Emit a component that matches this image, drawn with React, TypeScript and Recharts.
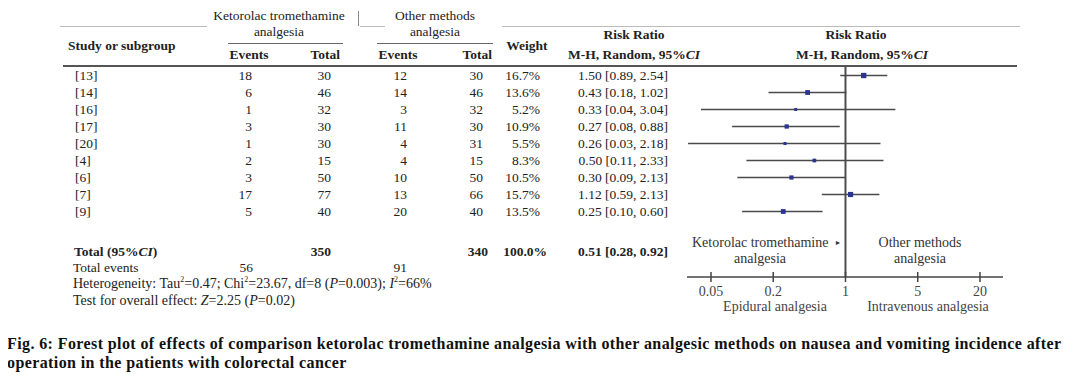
import React from "react"
import { ComposedChart, Scatter, ErrorBar, XAxis, YAxis, ReferenceLine } from "recharts"

// Study rows
const studies = ["[13]", "[14]", "[16]", "[17]", "[20]", "[4]", "[6]", "[7]", "[9]"]
const ketEvents = [18, 6, 1, 3, 1, 2, 3, 17, 5]
const ketTotal = [30, 46, 32, 30, 30, 15, 50, 77, 40]
const othEvents = [12, 14, 3, 11, 4, 4, 10, 13, 20]
const othTotal = [30, 46, 32, 30, 31, 15, 50, 66, 40]
const weights = [16.7, 13.6, 5.2, 10.9, 5.5, 8.3, 10.5, 15.7, 13.5]
const ratios = [1.5, 0.43, 0.33, 0.27, 0.26, 0.5, 0.3, 1.12, 0.25]
const lower = [0.89, 0.18, 0.04, 0.08, 0.03, 0.11, 0.09, 0.59, 0.1]
// [6] is printed as 2.13 but the line in the figure stops at 1
const upper = [2.54, 1.02, 3.04, 0.88, 2.18, 2.33, 1.0, 2.13, 0.6]
const ciLabels = [
  "1.50 [0.89, 2.54]",
  "0.43 [0.18, 1.02]",
  "0.33 [0.04, 3.04]",
  "0.27 [0.08, 0.88]",
  "0.26 [0.03, 2.18]",
  "0.50 [0.11, 2.33]",
  "0.30 [0.09, 2.13]",
  "1.12 [0.59, 2.13]",
  "0.25 [0.10, 0.60]",
]

// Totals
const totalKet = 350
const totalOth = 340
const totalWeight = "100.0%"
const totalCi = "0.51 [0.28, 0.92]"
const eventsKet = 56
const eventsOth = 91

const axisTicks = [0.05, 0.2, 1, 5, 20]

const rows = studies.map((s, i) => ({
  name: s,
  x: ratios[i],
  y: i,
  w: weights[i],
  err: [ratios[i] - lower[i], upper[i] - ratios[i]],
}))

const SERIF = "'Liberation Serif', 'Times New Roman', serif"
const INK = "#222"
const FS = 13.5

function T({ x, y, children, align = "left", bold = false, size = FS, color = INK, spacing = 0 }: any) {
  const tx = align === "center" ? "-50%" : align === "right" ? "-100%" : "0"
  return (
    <div
      style={{
        position: "absolute",
        left: x,
        top: y,
        transform: `translate(${tx}, -50%)`,
        fontFamily: SERIF,
        fontSize: size,
        fontWeight: bold ? "bold" : "normal",
        letterSpacing: spacing,
        color,
        lineHeight: 1.2,
        whiteSpace: "nowrap",
      }}
    >
      {children}
    </div>
  )
}

function HLine({ x1, x2, y, w = 1, color = "#bbb" }: any) {
  return <div style={{ position: "absolute", left: x1, top: y - w / 2, width: x2 - x1, height: w, background: color }} />
}

const RowTick = (props: any) => {
  const { y, payload } = props
  const i = payload.value
  if (i < 0 || i >= studies.length) return null
  const t = { fontFamily: SERIF, fontSize: FS, fill: INK, dominantBaseline: "central" as const }
  return (
    <g>
      <text {...t} x={75} y={y}>{studies[i]}</text>
      <text {...t} x={252} y={y} textAnchor="end">{ketEvents[i]}</text>
      <text {...t} x={331} y={y} textAnchor="end">{ketTotal[i]}</text>
      <text {...t} x={407} y={y} textAnchor="end">{othEvents[i]}</text>
      <text {...t} x={483} y={y} textAnchor="end">{othTotal[i]}</text>
      <text {...t} x={540} y={y} textAnchor="end">{weights[i].toFixed(1)}%</text>
      <text {...t} x={668} y={y} textAnchor="end">{ciLabels[i]}</text>
    </g>
  )
}

const LogTick = (props: any) => {
  const { x, y, payload } = props
  return (
    <g>
      <line x1={x} x2={x} y1={y - 5} y2={y + 5} stroke="#444" strokeWidth={1.5} />
      <text x={x} y={y + 14} textAnchor="middle" dominantBaseline="central" fontFamily={SERIF} fontSize={14} fill="#444">
        {payload.value}
      </text>
    </g>
  )
}

const Square = (props: any) => {
  const { cx, cy, payload } = props
  const s = 1.3 * Math.sqrt(payload.w)
  return <rect x={cx - s / 2} y={cy - s / 2} width={s} height={s} fill="#2b3590" />
}

export default function App() {
  return (
    <div style={{ position: "relative", width: 1084, height: 382, marginLeft: -8, marginTop: -8, background: "#fff", overflow: "hidden" }}>
      {/* header */}
      <HLine x1={60} x2={207} y={26} />
      <HLine x1={360} x2={385} y={26} />
      <HLine x1={502} x2={1020} y={26} />
      <div style={{ position: "absolute", left: 358, top: 11, width: 1, height: 15, background: "#888" }} />
      <T x={279} y={16} align="center">Ketorolac tromethamine</T>
      <T x={279} y={32} align="center">analgesia</T>
      <HLine x1={228} x2={343} y={43} color="#666" />
      <T x={435} y={16} align="center">Other methods</T>
      <T x={435} y={32} align="center">analgesia</T>
      <HLine x1={377} x2={493} y={43} color="#666" />
      <T x={68} y={46} bold>Study or subgroup</T>
      <T x={249} y={55} align="center" bold>Events</T>
      <T x={340} y={55} align="right" bold>Total</T>
      <T x={398} y={55} align="center" bold>Events</T>
      <T x={492} y={55} align="right" bold>Total</T>
      <T x={527} y={46} align="center" bold>Weight</T>
      <T x={634} y={35} align="center" bold>Risk Ratio</T>
      <T x={634} y={55} align="center" bold>M-H, Random, 95%<i>CI</i></T>
      <T x={856} y={35} align="center" bold>Risk Ratio</T>
      <T x={862} y={55} align="center" bold>M-H, Random, 95%<i>CI</i></T>
      <HLine x1={63} x2={1017} y={66} w={2} color="#555" />

      <div style={{ position: "absolute", left: 0, top: 0 }}>
        <ComposedChart width={1084} height={320} margin={{ top: 66, right: 81, bottom: 13, left: 677 }}>
          <XAxis
            type="number"
            dataKey="x"
            scale="log"
            domain={[0.0293, 33.4]}
            allowDataOverflow
            ticks={axisTicks}
            interval={0}
            height={30}
            tickSize={0}
            tickMargin={0}
            tickLine={false}
            tick={<LogTick />}
            axisLine={{ stroke: "#444", strokeWidth: 1.5 }}
          />
          <YAxis
            type="number"
            dataKey="y"
            domain={[-0.559, 11.853]}
            reversed
            allowDataOverflow
            ticks={studies.map((_, i) => i)}
            interval={0}
            width={10}
            axisLine={false}
            tickLine={false}
            tick={<RowTick />}
          />
          <ReferenceLine x={1} stroke="#4d4d4d" strokeWidth={2} />
          <Scatter data={rows} isAnimationActive={false} shape={<Square />}>
            <ErrorBar dataKey="err" direction="x" width={0} stroke="#4a4a4a" strokeWidth={1.5} />
          </Scatter>
        </ComposedChart>
      </div>

      {/* totals and footnotes */}
      <T x={74} y={252} bold>Total (95%<i>CI</i>)</T>
      <T x={331} y={252} align="right" bold>{totalKet}</T>
      <T x={488} y={252} align="right" bold>{totalOth}</T>
      <T x={547} y={252} align="right" bold>{totalWeight}</T>
      <T x={668} y={252} align="right" bold>{totalCi}</T>
      <T x={73} y={268}>Total events</T>
      <T x={253} y={268} align="right">{eventsKet}</T>
      <T x={407} y={268} align="right">{eventsOth}</T>
      <T x={73} y={284} size={14}>
        Heterogeneity: Tau<sup style={{ fontSize: 8 }}>2</sup>=0.47; Chi<sup style={{ fontSize: 8 }}>2</sup>=23.67, df=8 (<i>P</i>=0.003); <i>I</i>
        <sup style={{ fontSize: 8 }}>2</sup>=66%
      </T>
      <T x={73} y={301} size={14}>
        Test for overall effect: <i>Z</i>=2.25 (<i>P</i>=0.02)
      </T>

      {/* forest axis labels */}
      <T x={692} y={243} size={14} color="#333">Ketorolac tromethamine</T>
      <T x={838} y={243} align="center" size={7} color="#333">►</T>
      <T x={760} y={259} align="center" size={14} color="#333">analgesia</T>
      <T x={920} y={243} align="center" size={14} color="#333">Other methods</T>
      <T x={920} y={259} align="center" size={14} color="#333">analgesia</T>
      <T x={775} y={307} align="center" size={14} color="#444">Epidural analgesia</T>
      <T x={928} y={307} align="center" size={14} color="#444">Intravenous analgesia</T>

      {/* caption */}
      <T x={7} y={344} bold size={16} spacing={0.4} color="#111">
        Fig. 6: Forest plot of effects of comparison ketorolac tromethamine analgesia with other analgesic methods on nausea and vomiting incidence after
      </T>
      <T x={7} y={363} bold size={16} spacing={0.4} color="#111">operation in the patients with colorectal cancer</T>
    </div>
  )
}
